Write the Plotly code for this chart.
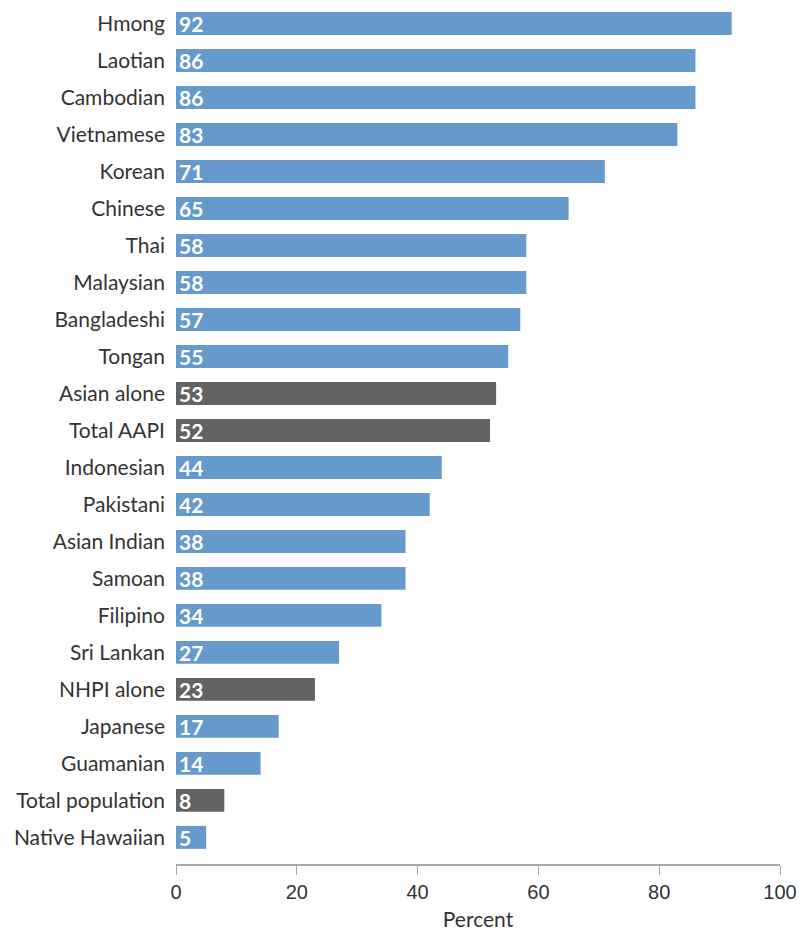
import plotly.graph_objects as go

# Groups listed top to bottom
groups = ["Hmong", "Laotian", "Cambodian", "Vietnamese", "Korean", "Chinese", "Thai",
          "Malaysian", "Bangladeshi", "Tongan", "Asian alone", "Total AAPI", "Indonesian",
          "Pakistani", "Asian Indian", "Samoan", "Filipino", "Sri Lankan", "NHPI alone",
          "Japanese", "Guamanian", "Total population", "Native Hawaiian"]
percent = [92, 86, 86, 83, 71, 65, 58, 58, 57, 55, 53, 52, 44, 42, 38, 38, 34, 27, 23,
           17, 14, 8, 5]
aggregates = ["Asian alone", "Total AAPI", "NHPI alone", "Total population"]

BLUE = "#6699cc"
GRAY = "#636363"

# Plot bottom-to-top so the first group sits at the top
ys = groups[::-1]
xs = percent[::-1]
colors = [GRAY if g in aggregates else BLUE for g in ys]

fig = go.Figure(go.Bar(
    x=xs, y=ys, orientation="h",
    marker=dict(color=colors, line=dict(width=0)),
    width=0.62,
    text=[str(v) for v in xs],
    textposition="inside",
    insidetextanchor="start",
    constraintext="none",
    textangle=0,
    textfont=dict(family="Lato", size=21, color="white", weight="bold"),
    hoverinfo="skip",
))

fig.update_layout(
    width=811, height=933,
    margin=dict(l=176, r=31, t=5, b=67),
    paper_bgcolor="white", plot_bgcolor="white",
    font=dict(family="Lato", size=21, color="#333333"),
    showlegend=False,
)
fig.update_xaxes(
    range=[0, 100], tickvals=[0, 20, 40, 60, 80, 100],
    showgrid=False, zeroline=False,
    showline=True, linecolor="#a6a6a6", linewidth=2,
    ticks="outside", ticklen=9, tickcolor="#a6a6a6", tickwidth=1,
    tickfont=dict(family="Liberation Sans", size=20, color="#333333"),
    title=dict(text="Percent", font=dict(family="Lato", size=21, color="#333333"), standoff=10),
)
fig.update_yaxes(
    type="category", categoryorder="array", categoryarray=ys,
    range=[-0.72, 22.5],
    showgrid=False, zeroline=False, showline=False, ticks="",
    ticklabelstandoff=10,
    tickfont=dict(family="Lato", size=21, color="#333333"),
)

fig.write_html("out.html")
